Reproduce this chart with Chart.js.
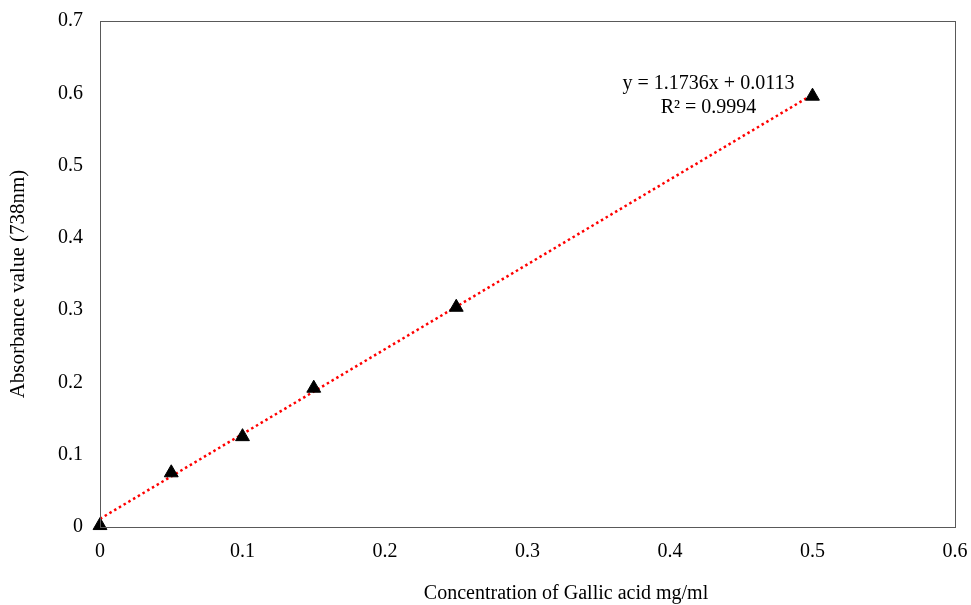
<!DOCTYPE html>
<html>
<head>
<meta charset="utf-8">
<script src="https://cdn.jsdelivr.net/npm/chart.js@4.4.1/dist/chart.umd.min.js"></script>
<style>
  html, body { margin: 0; padding: 0; background: #fff; }
  #wrap { width: 971px; height: 605px; }
</style>
</head>
<body>
<div id="wrap"><canvas id="myChart"></canvas></div>
<script>
// data
var concentration = [0, 0.05, 0.1, 0.15, 0.25, 0.5];
var absorbance = [0.002, 0.075, 0.125, 0.192, 0.304, 0.596];

// fitted trendline, as printed on the chart
var slope = 1.1736;
var intercept = 0.0113;
var rSquared = 0.9994;
var trendX = [0, 0.5];
var trendY = [0.0113, 0.5981];

var xTicks = [0, 0.1, 0.2, 0.3, 0.4, 0.5, 0.6];
var yTicks = [0, 0.1, 0.2, 0.3, 0.4, 0.5, 0.6, 0.7];

var xTitle = 'Concentration of Gallic acid mg/ml';
var yTitle = 'Absorbance value (738nm)';

var fontFam = '"Liberation Serif", "Times New Roman", serif';

var points = concentration.map(function (c, i) { return { x: c, y: absorbance[i] }; });
var trend = trendX.map(function (c, i) { return { x: c, y: trendY[i] }; });

// frame around plot area, axis titles, equation label
var extras = {
  id: 'extras',
  afterDraw: function (chart) {
    var c = chart.ctx, a = chart.chartArea;
    c.save();
    c.strokeStyle = '#595959';
    c.lineWidth = 1;
    c.strokeRect(a.left + 0.5, a.top + 0.5, a.right - a.left, a.bottom - a.top);
    var xs = chart.scales.x, ys = chart.scales.y;
    c.fillStyle = '#000';
    c.font = '20px ' + fontFam;
    c.textAlign = 'center';
    c.textBaseline = 'middle';
    var cx = xs.getPixelForValue(0.427);
    c.fillText('y = ' + slope + 'x + ' + intercept, cx, ys.getPixelForValue(0.613));
    c.fillText('R² = ' + rSquared, cx, ys.getPixelForValue(0.580));

    // axis titles
    c.fillText(xTitle, 566, 594);
    c.translate(18, 284);
    c.rotate(-Math.PI / 2);
    c.font = '21px ' + fontFam;
    c.fillText(yTitle, 0, 0);
    c.restore();
  }
};

var ctx = document.getElementById('myChart');
var myChart = new Chart(ctx, {
  type: 'scatter',
  data: {
    datasets: [{
      type: 'line',
      data: trend,
      borderColor: '#ff0000',
      borderWidth: 2.5,
      borderDash: [2.5, 3],
      pointRadius: 0,
      fill: false,
      order: 2
    }, {
      data: points,
      pointStyle: 'triangle',
      pointRadius: 8,
      backgroundColor: '#000',
      borderColor: '#000',
      clip: false,
      order: 1
    }]
  },
  options: {
    responsive: true,
    maintainAspectRatio: false,
    animation: false,
    events: [],
    layout: { padding: { top: 21, right: 16, left: 0, bottom: 0 } },
    plugins: { legend: { display: false }, tooltip: { enabled: false } },
    scales: {
      x: {
        type: 'linear',
        min: 0, max: 0.6,
        afterBuildTicks: function (s) { s.ticks = xTicks.map(function (v) { return { value: v }; }); },
        afterFit: function (s) { s.height = 78; s.paddingLeft = 0; s.paddingRight = 0; },
        grid: { display: false, drawTicks: false },
        border: { display: true, color: '#808080' },
        ticks: { color: '#000', font: { family: fontFam, size: 20 }, padding: 13 }
      },
      y: {
        type: 'linear',
        min: 0, max: 0.7,
        afterBuildTicks: function (s) { s.ticks = yTicks.map(function (v) { return { value: v }; }); },
        afterFit: function (s) { s.width = 100; s.paddingTop = 0; s.paddingBottom = 0; },
        grid: { display: false, drawTicks: false },
        border: { display: true, color: '#595959' },
        ticks: { color: '#000', font: { family: fontFam, size: 20 }, padding: 17 }
      }
    }
  },
  plugins: [extras]
});
</script>
</body>
</html>
